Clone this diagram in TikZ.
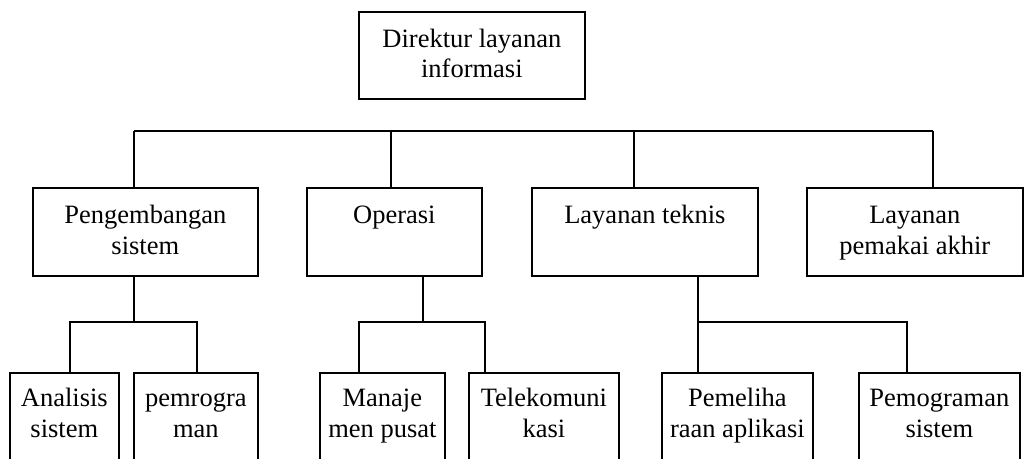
\documentclass[tikz,border=0pt]{standalone}
\usepackage{fontspec}
\setmainfont{Liberation Serif}
\usetikzlibrary{calc}

\tikzset{
  box/.style={draw, line width=1.7pt, rectangle, inner sep=0pt, anchor=north west},
  txt/.style={inner sep=0pt, anchor=north, align=center,
              font=\fontsize{26.5}{30.7}\selectfont},
  wire/.style={line width=1.7pt},
}

\begin{document}
\begin{tikzpicture}[x=1pt,y=-1pt]
  \clip (0,0) rectangle (1024,458);
  \fill[white] (0,0) rectangle (1024,458);

  % head of the unit
  \node[box, minimum width=226pt, minimum height=87pt] (dir) at (358,11) {};
  \node[txt] (dirT) at ($(dir.north)+(0,14.5)$) {\strut Direktur layanan\\informasi};

  % second level
  \node[box, minimum width=225pt, minimum height=88pt] (peng) at (32,187) {};
  \node[txt] (pengT) at ($(peng.north)+(0,15)$) {\strut Pengembangan\\sistem};
  \node[box, minimum width=175pt, minimum height=88pt] (ops) at (306,187) {};
  \node[txt] (opsT) at ($(ops.north)+(0,15)$) {\strut Operasi};
  \node[box, minimum width=226pt, minimum height=88pt] (tek) at (531,187) {};
  \node[txt] (tekT) at ($(tek.north)+(0,15)$) {\strut Layanan teknis};
  \node[box, minimum width=216pt, minimum height=88pt] (akh) at (806,187) {};
  \node[txt] (akhT) at ($(akh.north)+(0,15)$) {\strut Layanan\\pemakai akhir};

  % third level (runs past the lower edge)
  \node[box, minimum width=109pt, minimum height=110pt] (ana) at (9,372) {};
  \node[txt] (anaT) at ($(ana.north)+(0,13)$) {\strut Analisis\\sistem};
  \node[box, minimum width=124pt, minimum height=110pt] (prg) at (133,372) {};
  \node[txt] (prgT) at ($(prg.north)+(0,13)$) {\strut pemrogra\\man};
  \node[box, minimum width=125pt, minimum height=110pt] (man) at (319,372) {};
  \node[txt] (manT) at ($(man.north)+(0,13)$) {\strut Manaje\\men pusat};
  \node[box, minimum width=150pt, minimum height=110pt] (tel) at (468,372) {};
  \node[txt] (telT) at ($(tel.north)+(0,13)$) {\strut Telekomuni\\kasi};
  \node[box, minimum width=151pt, minimum height=110pt] (pml) at (661,372) {};
  \node[txt] (pmlT) at ($(pml.north)+(0,13)$) {\strut Pemeliha\\raan aplikasi};
  \node[box, minimum width=161pt, minimum height=110pt] (pgs) at (858,372) {};
  \node[txt] (pgsT) at ($(pgs.north)+(0,13)$) {\strut Pemograman\\sistem};

  % bus feeding the second level
  \coordinate (b1) at (134,131);
  \coordinate (b2) at (391,131);
  \coordinate (b3) at (634,131);
  \coordinate (b4) at (933,131);
  \draw[wire] (b1) -- (b4);
  \draw[wire] (b1) -- (b1 |- peng.north);
  \draw[wire] (b2) -- (b2 |- ops.north);
  \draw[wire] (b3) -- (b3 |- tek.north);
  \draw[wire] (b4) -- (b4 |- akh.north);

  % branches to the third level
  \coordinate (j1) at (134,322);
  \coordinate (j2) at (423,322);
  \coordinate (j3) at (698,322);
  \coordinate (c1) at (70,0);
  \coordinate (c2) at (197,0);
  \coordinate (c3) at (359,0);
  \coordinate (c4) at (485,0);
  \coordinate (c6) at (907,0);

  \draw[wire] (j1 |- peng.south) -- (j1);
  \draw[wire] (ana.north -| c1) |- (j1) -| (prg.north -| c2);

  \draw[wire] (j2 |- ops.south) -- (j2);
  \draw[wire] (man.north -| c3) |- (j2) -| (tel.north -| c4);

  \draw[wire] (j3 |- tek.south) -- (pml.north -| j3);
  \draw[wire] (j3) -| (pgs.north -| c6);
\end{tikzpicture}
\end{document}
